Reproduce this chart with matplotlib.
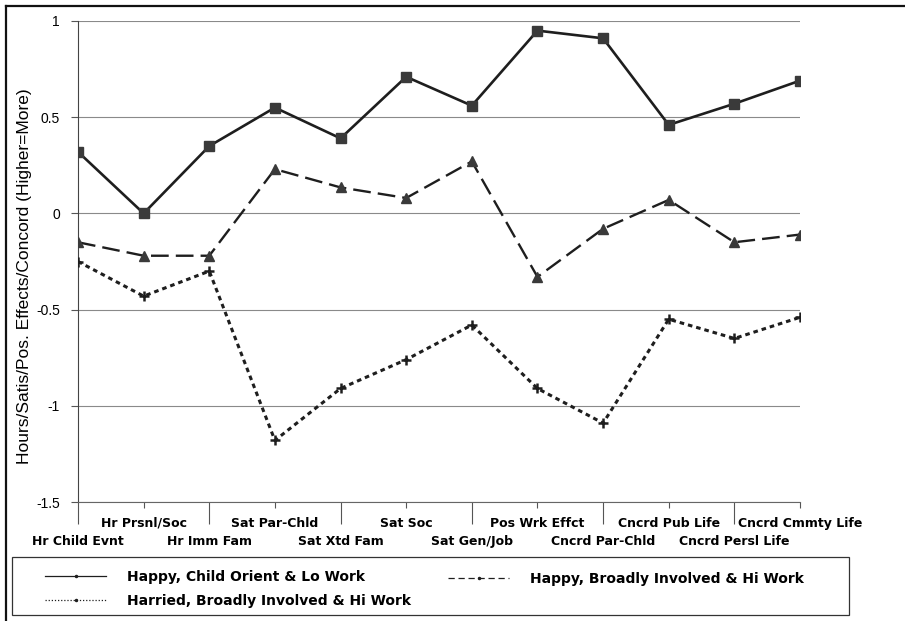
import numpy as np
import matplotlib
matplotlib.use("Agg")
import matplotlib.pyplot as plt
from matplotlib.lines import Line2D
from matplotlib.patches import Rectangle

# categories along the x axis (even index = lower row, odd index = upper row)
categories = ["Hr Child Evnt", "Hr Prsnl/Soc", "Hr Imm Fam", "Sat Par-Chld",
              "Sat Xtd Fam", "Sat Soc", "Sat Gen/Job", "Pos Wrk Effct",
              "Cncrd Par-Chld", "Cncrd Pub Life", "Cncrd Persl Life", "Cncrd Cmmty Life"]

happy_child = [0.32, 0.00, 0.35, 0.55, 0.39, 0.71, 0.56, 0.95, 0.91, 0.46, 0.57, 0.69]
happy_broad = [-0.15, -0.22, -0.22, 0.23, 0.135, 0.08, 0.27, -0.33, -0.08, 0.07, -0.15, -0.11]
harried_broad = [-0.25, -0.43, -0.30, -1.18, -0.91, -0.76, -0.58, -0.91, -1.09, -0.55, -0.65, -0.54]

labels = ["Happy, Child Orient & Lo Work",
          "Harried, Broadly Involved & Hi Work",
          "Happy, Broadly Involved & Hi Work"]

yticks = [1, 0.5, 0, -0.5, -1, -1.5]
ytick_labels = ["1", "0.5", "0", "-0.5", "-1", "-1.5"]

W, H = 905, 621
fig = plt.figure(figsize=(W / 100, H / 100), dpi=100)
ax = fig.add_axes([78 / W, 1 - 502 / H, (800 - 78) / W, 481 / H])

x = np.arange(len(categories))
line_col = "#1e1e1e"
mark_col = "#3a3a3a"

ax.plot(x, happy_child, '-', color=line_col, lw=1.9, marker='s', ms=7,
        mfc=mark_col, mec=mark_col, zorder=3)
ax.plot(x, happy_broad, color=line_col, lw=1.7, dashes=(7.5, 3), marker='^', ms=7.5,
        mfc=mark_col, mec=mark_col, zorder=3)
ax.plot(x, harried_broad, color=line_col, lw=2.2, dashes=(1.5, 1.3), marker='+', ms=7.5,
        mew=1.8, mec=line_col, zorder=3)

ax.set_xlim(0, len(categories) - 1)
ax.set_ylim(-1.5, 1)
ax.set_yticks(yticks)
ax.set_yticklabels(ytick_labels, fontsize=10, family="Liberation Sans")
ax.yaxis.grid(True, color="#8a8a8a", lw=0.8)
ax.set_axisbelow(True)
ax.tick_params(axis='y', length=5, width=0.8, color="#555555", pad=8)

# staggered x labels: long ticks for lower row, short ticks for upper row
ax.set_xticks(x[::2])
ax.set_xticklabels(categories[::2], fontsize=9, fontweight='bold')
ax.set_xticks(x[1::2], minor=True)
ax.set_xticklabels(categories[1::2], minor=True, fontsize=9, fontweight='bold')
ax.tick_params(axis='x', which='major', length=16, width=0.8, color="#555555", pad=8)
ax.tick_params(axis='x', which='minor', length=4.5, width=0.8, color="#555555", pad=6)

for s in ["top", "right"]:
    ax.spines[s].set_visible(False)
ax.spines["left"].set_color("#444444")
ax.spines["left"].set_linewidth(0.8)
ax.spines["bottom"].set_color("#666666")
ax.spines["bottom"].set_linewidth(0.8)

fig.text(25 / W, 1 - 276 / H, "Hours/Satis/Pos. Effects/Concord (Higher=More)",
         rotation=90, ha='center', va='center', fontsize=12.5, family="Liberation Sans")

# legend box
fig.patches.append(Rectangle((12 / W, 1 - 615 / H), 837 / W, 58 / H, transform=fig.transFigure,
                             fill=False, ec="#333333", lw=0.9))

h_solid = Line2D([], [], color=line_col, lw=0.9, marker='.', ms=3)
h_dot = Line2D([], [], color=line_col, lw=0.9, dashes=(1, 1.5), marker='.', ms=3)
h_dash = Line2D([], [], color=line_col, lw=0.9, dashes=(5, 3), marker='.', ms=3)

leg_kw = dict(frameon=False, loc='upper left', borderpad=0, borderaxespad=0,
              handlelength=4.4, handletextpad=1.5, labelspacing=0.7,
              prop={'size': 10, 'weight': 'bold'})
fig.legend([h_solid, h_dot], labels[:2], bbox_to_anchor=(45 / W, 1 - 570 / H), **leg_kw)
fig.legend([h_dash], labels[2:], bbox_to_anchor=(448 / W, 1 - 572 / H), **leg_kw)

# outer frame lines (left and top)
fig.add_artist(Line2D([6 / W, 6 / W], [0, 1 - 6 / H], transform=fig.transFigure, color="#111111", lw=1.6))
fig.add_artist(Line2D([6 / W, 1], [1 - 6 / H, 1 - 6 / H], transform=fig.transFigure, color="#111111", lw=1.6))

fig.savefig("out.png", dpi=100)
